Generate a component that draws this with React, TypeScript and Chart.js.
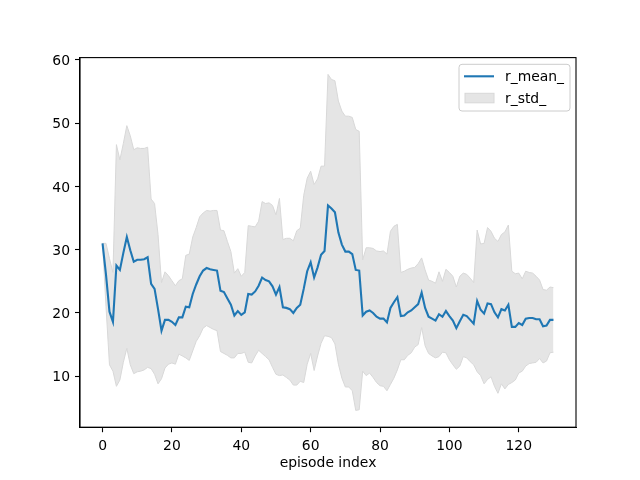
import React, { useEffect, useRef } from "react";
import { Chart, registerables } from "chart.js";

Chart.register(...registerables);

// ---- data ----
const episodeCount = 131;
const rMean: number[] = [
  31.0, 26.0, 20.2, 18.6, 27.5, 26.8, 29.5, 32.0, 29.9, 28.1,
  28.4, 28.4, 28.5, 28.8, 24.6, 23.8, 20.6, 17.2, 18.9, 18.9,
  18.6, 18.1, 19.3, 19.3, 21.0, 20.9, 23.0, 24.5, 25.8, 26.7,
  27.1, 26.9, 26.8, 26.7, 23.5, 23.3, 22.3, 21.3, 19.6, 20.3,
  19.7, 20.1, 23.0, 22.9, 23.4, 24.3, 25.6, 25.2, 25.0, 24.2,
  22.9, 24.1, 20.9, 20.8, 20.6, 20.0, 20.8, 21.3, 23.8, 26.6,
  28.0, 25.6, 27.2, 29.2, 29.8, 37.0, 36.5, 35.9, 32.7, 30.8,
  29.7, 29.7, 29.3, 26.8, 26.7, 19.6, 20.2, 20.4, 20.0, 19.4,
  19.1, 19.1, 18.5, 20.8, 21.7, 22.5, 19.5, 19.6, 20.1, 20.4,
  20.9, 21.4, 23.2, 20.8, 19.4, 19.1, 18.8, 19.8, 19.4, 20.3,
  19.5, 18.8, 17.6, 18.7, 19.7, 19.5, 18.9, 18.3, 21.9, 20.5,
  19.9, 21.5, 21.4, 20.1, 19.3, 20.6, 20.4, 21.3, 17.8, 17.8,
  18.4, 18.1, 19.1, 19.2, 19.2, 19.0, 19.0, 17.9, 18.0, 18.9,
  18.9,
];
const rStd: number[] = [
  0.0, 5.0, 8.4, 7.8, 19.1, 17.4, 17.3, 17.6, 18.1, 17.7,
  17.7, 17.6, 17.5, 17.4, 13.4, 13.5, 11.8, 7.6, 7.6, 7.0,
  6.5, 6.2, 5.8, 6.1, 8.1, 8.4, 9.0, 9.0, 9.4, 9.1,
  9.1, 9.2, 9.4, 9.5, 9.6, 9.7, 9.0, 8.4, 6.7, 6.7,
  6.1, 6.3, 10.8, 10.8, 10.2, 10.2, 12.0, 12.1, 12.4, 12.8,
  12.6, 14.0, 10.7, 11.0, 11.2, 11.4, 12.2, 12.1, 14.8, 14.7,
  14.4, 14.7, 14.0, 14.0, 13.4, 20.7, 20.4, 20.8, 20.8, 21.1,
  21.4, 21.4, 21.6, 22.2, 22.0, 8.8, 10.1, 9.9, 10.2, 10.4,
  10.6, 10.7, 10.8, 12.1, 12.0, 11.5, 6.9, 7.0, 6.8, 6.7,
  6.3, 6.4, 5.5, 6.0, 5.8, 5.9, 5.9, 6.7, 5.6, 6.6,
  6.9, 7.0, 6.5, 7.1, 6.6, 6.6, 6.6, 6.5, 11.2, 10.4,
  11.1, 12.0, 11.5, 11.7, 12.0, 11.8, 12.4, 12.6, 8.8, 8.4,
  7.9, 7.3, 7.5, 7.2, 7.1, 6.8, 6.2, 5.8, 5.6, 5.2,
  5.1,
];
const xTickValues: number[] = [0, 20, 40, 60, 80, 100, 120];
const yTickValues: number[] = [10, 20, 30, 40, 50, 60];
const seriesLabels: string[] = ["r_mean_", "r_std_"];
const xAxisTitle = "episode index";

// ---- styles ----
const FONT = "'DejaVu Sans', sans-serif";
const FONT_PX = 13.9;
const LINE_COLOR = "#1f77b4";
const BAND_FILL = "rgb(229,229,229)";
const BAND_EDGE = "rgb(216,216,216)";

const frameAndLegend = {
  id: "frameAndLegend",
  afterDraw(chart: any) {
    const { ctx, chartArea: a } = chart;
    ctx.save();
    // frame (all four spines)
    ctx.strokeStyle = "#000";
    ctx.lineWidth = 1.1;
    ctx.strokeRect(a.left, a.top, a.right - a.left, a.bottom - a.top);

    // legend
    const bx = a.right - 117;
    const by = a.top + 6.7;
    const bw = 111;
    const bh = 46.7;
    const r = 3;
    ctx.beginPath();
    ctx.moveTo(bx + r, by);
    ctx.lineTo(bx + bw - r, by);
    ctx.arcTo(bx + bw, by, bx + bw, by + r, r);
    ctx.lineTo(bx + bw, by + bh - r);
    ctx.arcTo(bx + bw, by + bh, bx + bw - r, by + bh, r);
    ctx.lineTo(bx + r, by + bh);
    ctx.arcTo(bx, by + bh, bx, by + bh - r, r);
    ctx.lineTo(bx, by + r);
    ctx.arcTo(bx, by, bx + r, by, r);
    ctx.closePath();
    ctx.fillStyle = "rgba(255,255,255,0.8)";
    ctx.fill();
    ctx.strokeStyle = "#cccccc";
    ctx.lineWidth = 1;
    ctx.stroke();

    // line handle
    ctx.beginPath();
    ctx.moveTo(bx + 5, by + 12);
    ctx.lineTo(bx + 35, by + 12);
    ctx.strokeStyle = LINE_COLOR;
    ctx.lineWidth = 2.1;
    ctx.stroke();

    // patch handle
    ctx.fillStyle = BAND_FILL;
    ctx.fillRect(bx + 6, by + 29, 29, 9.5);
    ctx.strokeStyle = BAND_EDGE;
    ctx.lineWidth = 1;
    ctx.strokeRect(bx + 6, by + 29, 29, 9.5);

    ctx.fillStyle = "#000";
    ctx.font = `${FONT_PX}px ${FONT}`;
    ctx.textAlign = "left";
    ctx.textBaseline = "alphabetic";
    ctx.fillText(seriesLabels[0], bx + 46, by + 17);
    ctx.fillText(seriesLabels[1], bx + 46, by + 38.5);
    ctx.restore();
  },
};

export default function App() {
  const canvasRef = useRef<HTMLCanvasElement | null>(null);

  useEffect(() => {
    document.body.style.margin = "0";
    const canvas = canvasRef.current;
    if (!canvas) return;

    const meanPts = rMean.map((v, i) => ({ x: i, y: v }));
    const lowerPts = rMean.map((v, i) => ({ x: i, y: v - rStd[i] }));
    const upperPts = rMean.map((v, i) => ({ x: i, y: v + rStd[i] }));

    const lows = lowerPts.map((p) => p.y);
    const highs = upperPts.map((p) => p.y);
    const yLo = Math.min(...lows);
    const yHi = Math.max(...highs);
    const yPad = (yHi - yLo) * 0.05;
    const xPad = (episodeCount - 1) * 0.05;

    const chart = new Chart(canvas, {
      type: "line",
      data: {
        datasets: [
          {
            label: seriesLabels[0],
            data: meanPts,
            borderColor: LINE_COLOR,
            borderWidth: 2.1,
            pointRadius: 0,
            fill: false,
            tension: 0,
          },
          {
            label: "lower",
            data: lowerPts,
            borderColor: BAND_EDGE,
            borderWidth: 1,
            pointRadius: 0,
            fill: false,
            tension: 0,
          },
          {
            label: seriesLabels[1],
            data: upperPts,
            borderColor: BAND_EDGE,
            borderWidth: 1,
            backgroundColor: BAND_FILL,
            pointRadius: 0,
            fill: "-1",
            tension: 0,
          },
        ],
      },
      options: {
        responsive: false,
        animation: false,
        layout: { padding: { top: 57.6, right: 64, left: 0, bottom: 0 } },
        plugins: {
          legend: { display: false },
          tooltip: { enabled: false },
        },
        scales: {
          x: {
            type: "linear",
            min: -xPad,
            max: episodeCount - 1 + xPad,
            afterBuildTicks: (s: any) => {
              s.ticks = xTickValues.map((v) => ({ value: v }));
            },
            afterFit: (s: any) => {
              s.height = 52.8;
            },
            ticks: {
              autoSkip: false,
              maxRotation: 0,
              padding: 5.5,
              color: "#000",
              font: { family: FONT, size: FONT_PX },
              callback: (v: any) => String(v),
            },
            grid: {
              drawOnChartArea: false,
              drawTicks: true,
              tickLength: 5,
              tickWidth: 1.1,
              tickColor: "#000",
            },
            border: { display: true, color: "#000", width: 1.1 },
            title: {
              display: true,
              text: xAxisTitle,
              color: "#000",
              font: { family: FONT, size: FONT_PX },
              padding: { top: 4, bottom: 8 },
            },
          },
          y: {
            type: "linear",
            min: yLo - yPad,
            max: yHi + yPad,
            afterBuildTicks: (s: any) => {
              s.ticks = yTickValues.map((v) => ({ value: v }));
            },
            afterFit: (s: any) => {
              s.width = 80;
            },
            ticks: {
              autoSkip: false,
              padding: 5,
              labelOffset: 1.5,
              color: "#000",
              font: { family: FONT, size: FONT_PX },
              callback: (v: any) => String(v),
            },
            grid: {
              drawOnChartArea: false,
              drawTicks: true,
              tickLength: 5,
              tickWidth: 1.1,
              tickColor: "#000",
            },
            border: { display: true, color: "#000", width: 1.1 },
          },
        },
      },
      plugins: [frameAndLegend],
    });

    return () => {
      chart.destroy();
    };
  }, []);

  return (
    <div style={{ width: 640, height: 480, background: "#fff" }}>
      <canvas ref={canvasRef} width={640} height={480} style={{ display: "block" }} />
    </div>
  );
}
